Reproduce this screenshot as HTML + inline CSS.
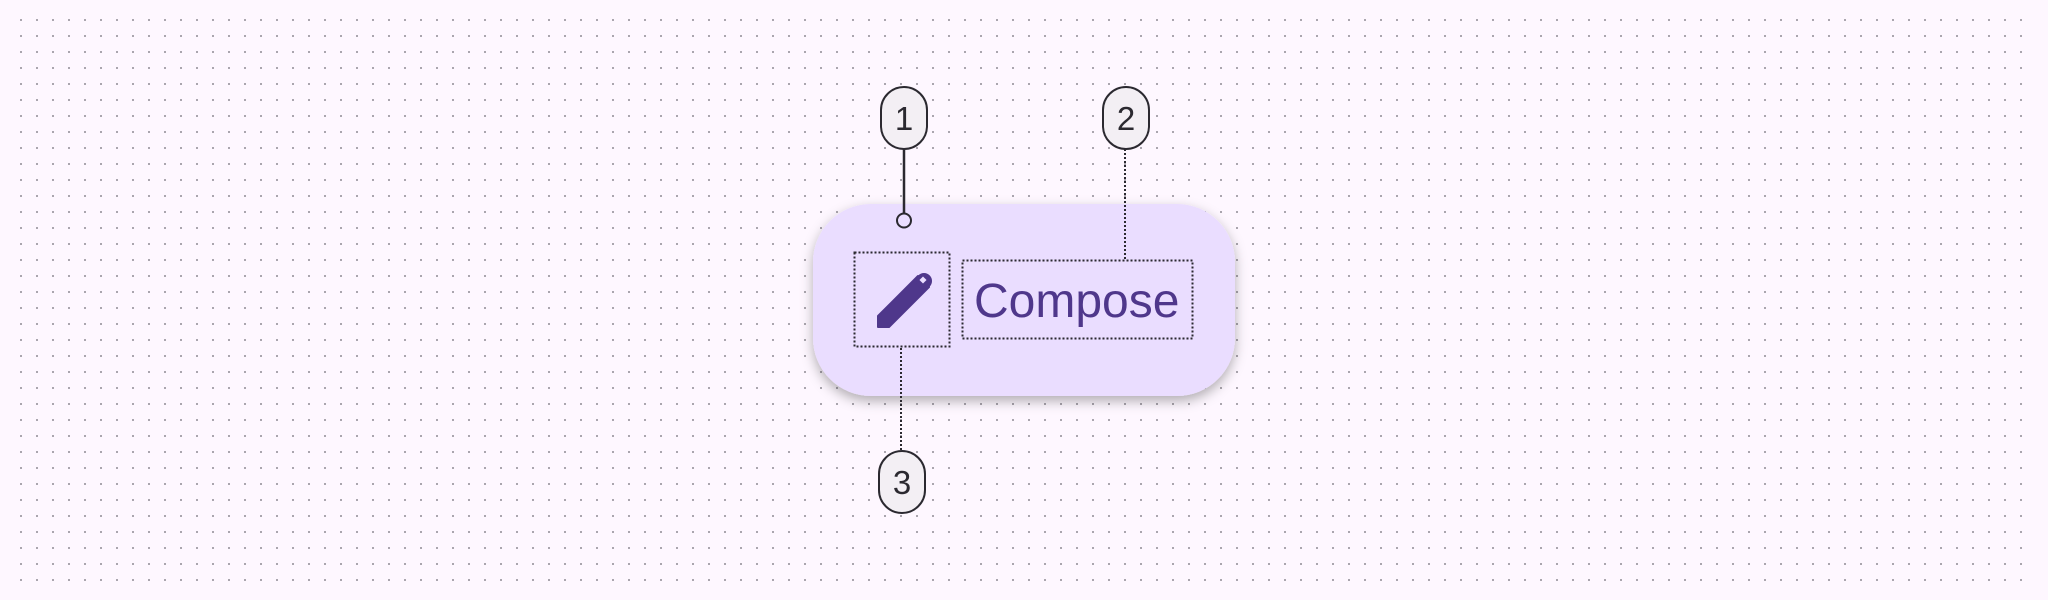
<!DOCTYPE html>
<html><head><meta charset="utf-8"><style>
html,body{margin:0;padding:0;}
body{width:2048px;height:600px;background:#fef7ff;overflow:hidden;position:relative;font-family:"Liberation Sans",sans-serif;}
svg{position:absolute;left:0;top:0;}
</style></head><body>
<svg width="2048" height="600" viewBox="0 0 2048 600">
  <defs>
    <pattern id="dots" x="16" y="16" width="16" height="16" patternUnits="userSpaceOnUse">
      <rect x="4" y="3" width="2" height="2" fill="#aaa5ae"/>
    </pattern>
    <filter id="sh" x="-20%" y="-30%" width="140%" height="170%">
      <feDropShadow dx="0" dy="5" stdDeviation="6" flood-color="#000" flood-opacity="0.3"/>
    </filter>
  </defs>
  <rect x="16" y="16" width="2016" height="568" fill="url(#dots)"/>

  <g>
    <rect x="813" y="204" width="422" height="192" rx="58" ry="58" fill="#eaddff" filter="url(#sh)"/>
    <rect x="854.5" y="252.5" width="95" height="94" fill="none" stroke="#2b2930" stroke-width="2" stroke-dasharray="2,2"/>
    <g>
      <polygon points="878,316 878,327 889,327 929,287 918,276" fill="#4f378b" stroke="#4f378b" stroke-width="2" stroke-linejoin="round"/>
      <circle cx="924" cy="281" r="8" fill="#4f378b"/>
      <rect x="920.5" y="277.5" width="5" height="5" fill="#eaddff" transform="rotate(45 923 280)"/>
    </g>
    <rect x="962.5" y="260.5" width="230" height="78" fill="none" stroke="#2b2930" stroke-width="2" stroke-dasharray="2,2"/>
    <text x="974" y="317" font-size="48" fill="#4f378b" font-family="Liberation Sans, sans-serif">Compose</text>
  </g>

  <g>
    <line x1="904" y1="149" x2="904" y2="214" stroke="#2b2930" stroke-width="2.5"/>
    <circle cx="904" cy="220.5" r="7" fill="none" stroke="#2b2930" stroke-width="2"/>
    <rect x="881" y="87" width="46" height="62" rx="23" fill="#f3eff4" stroke="#2b2930" stroke-width="2"/>
    <text x="904" y="130" font-size="33" text-anchor="middle" fill="#2b2930">1</text>
  </g>
  <g>
    <line x1="1125" y1="149" x2="1125" y2="260" stroke="#2b2930" stroke-width="2" stroke-dasharray="2,2"/>
    <rect x="1103" y="87" width="46" height="62" rx="23" fill="#f3eff4" stroke="#2b2930" stroke-width="2"/>
    <text x="1126" y="130" font-size="33" text-anchor="middle" fill="#2b2930">2</text>
  </g>
  <g>
    <line x1="901" y1="348" x2="901" y2="451" stroke="#2b2930" stroke-width="2" stroke-dasharray="2,2"/>
    <rect x="879" y="451" width="46" height="62" rx="23" fill="#f3eff4" stroke="#2b2930" stroke-width="2"/>
    <text x="902" y="494" font-size="33" text-anchor="middle" fill="#2b2930">3</text>
  </g>
</svg>
</body></html>
